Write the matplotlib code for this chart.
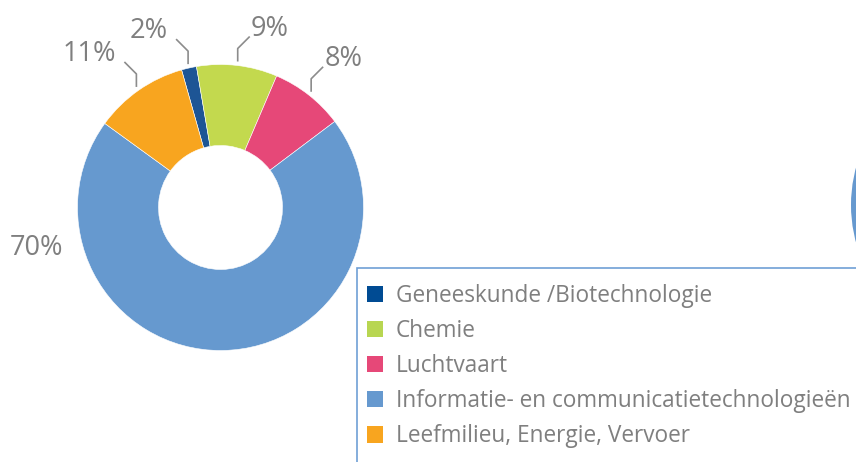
import numpy as np
import matplotlib
matplotlib.use("Agg")
import matplotlib.pyplot as plt
from matplotlib.patches import Patch, Rectangle

plt.rcParams['font.family'] = ['Open Sans', 'DejaVu Sans']

categories = ["Geneeskunde /Biotechnologie", "Chemie", "Luchtvaart",
              "Informatie- en communicatietechnologieën", "Leefmilieu, Energie, Vervoer"]
values = [1.7, 9.1, 8.3, 70.2, 10.6]
colors = ["#1d5595", "#c3d94e", "#e64878", "#6699cf", "#f8a51f"]
legend_colors = ["#004b93", "#b8d651", "#e64878", "#6699cf", "#f8a51f"]

W, H = 856, 462
fig = plt.figure(figsize=(W / 100, H / 100), dpi=100)
ax = fig.add_axes([0, 0, 1, 1])

cx, cy = 220.5, H - 207.5
R = 143
ring = 81
wedges, _ = ax.pie(values, colors=colors, startangle=105.8, counterclock=False,
                   center=(cx, cy), radius=R,
                   wedgeprops=dict(width=ring, edgecolor="white", linewidth=0.4))

# partial neighbouring chart at the right edge
ax.pie([1], colors=["#6699cf"], center=(994, H - 205), radius=143,
       wedgeprops=dict(linewidth=0))

ax.set_xlim(0, W)
ax.set_ylim(0, H)
ax.set_aspect("equal")
ax.axis("off")

txt_color = "#7f7f7f"
label_fs = 19.5
total = sum(values)
for w, v in zip(wedges, values):
    pct = f"{round(v / total * 100):.0f}%"
    if v > 50:
        ax.text(10, H - 248, pct, ha="left", va="center", fontsize=label_fs, color=txt_color)
        continue
    mid = np.deg2rad((w.theta1 + w.theta2) / 2)
    s = 1 if np.cos(mid) >= 0 else -1
    p0 = (cx + (R + 4) * np.cos(mid), cy + (R + 4) * np.sin(mid))
    p1 = (p0[0], p0[1] + 13)
    p2 = (p1[0] + s * 12, p1[1] + 12)
    ax.plot([p0[0], p1[0], p2[0]], [p0[1], p1[1], p2[1]], color="#8c8c8c", lw=1.2,
            solid_capstyle="butt")
    if s < 0:
        ax.text(p2[0] - 8, p2[1] + 1, pct, ha="right", va="baseline", fontsize=label_fs, color=txt_color)
    else:
        ax.text(p2[0] + 1, p2[1] + 1, pct, ha="left", va="baseline", fontsize=label_fs, color=txt_color)

# legend frame (extends past the canvas)
ax.add_patch(Rectangle((357, -50), 700, H - 268 + 50, facecolor="none",
                       edgecolor="#6f9fd6", linewidth=1.2, zorder=5))

handles = [Patch(facecolor=c, edgecolor="none") for c in legend_colors]
leg = ax.legend(handles, categories, loc="upper left",
                bbox_to_anchor=(367 / W, 1 - 284 / H), bbox_transform=fig.transFigure,
                frameon=False, fontsize=16.3, labelcolor=txt_color,
                borderpad=0, borderaxespad=0, handlelength=0.72, handleheight=0.72,
                handletextpad=0.55, labelspacing=0.49)

fig.savefig("out.png", dpi=100)
